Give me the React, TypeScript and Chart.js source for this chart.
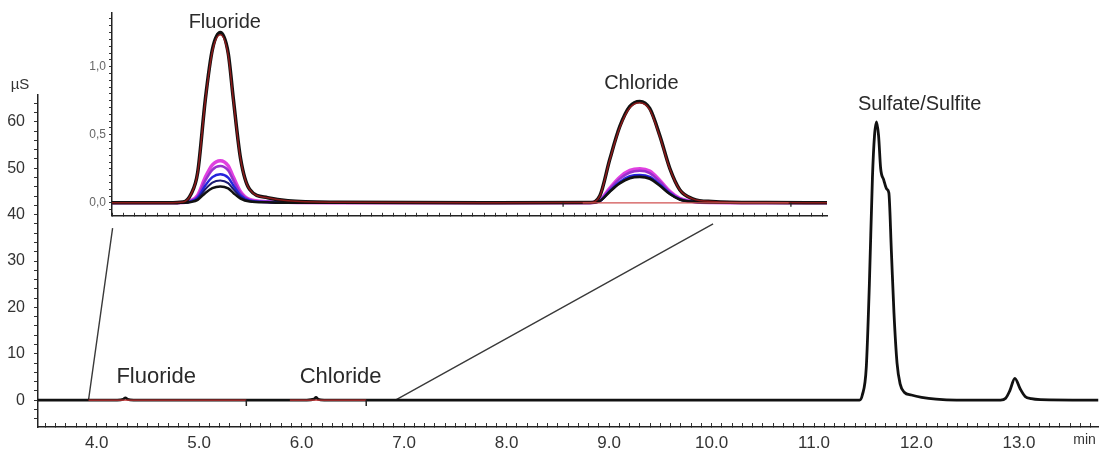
import React, { useEffect, useRef } from "react";
import { Chart, registerables } from "chart.js";

Chart.register(...registerables);

// ---------------- DATA ----------------
// Main chromatogram (time in min, conductivity in µS)
const mainTimes = [
  3.427, 3.92, 4.2, 4.26, 4.28, 4.3, 4.36, 5.46, 6.05, 6.12, 6.14, 6.16, 6.22, 7.0, 11.0,
  11.444, 11.47, 11.51, 11.54, 11.57, 11.59, 11.61, 11.63, 11.65, 11.68, 11.71, 11.73,
  11.755, 11.78, 11.81, 11.84, 11.88, 11.95, 12.05, 12.19, 12.39, 12.82, 12.87, 12.91,
  12.96, 13.01, 13.06, 13.12, 13.21, 13.776,
];
const mainSignal = [
  0, 0, 0, 0.2, 0.5, 0.2, 0, 0, 0, 0.2, 0.6, 0.2, 0, 0, 0,
  0, 1, 7.1, 25, 48, 57, 60, 57, 50, 47.5, 45.5, 44.7,
  32, 18.8, 8, 3.5, 1.7, 1.1, 0.6, 0.2, 0, 0, 0.4, 2,
  4.7, 2.5, 0.8, 0.3, 0.1, 0,
];
// integration baselines (red) and their end marks
const integrationStart = [3.92, 5.885];
const integrationEnd = [5.46, 6.63];
const integrationMarks = [5.46, 6.63];
// zoom connector lines (from main trace to inset)
const connectorFromX = [3.92, 6.915];
const connectorFromY = [0, 0];
const connectorToX = [4.155, 10.015];
const connectorToY = [37.1, 38.0];

// Peak labels
const mainLabelText = ["Fluoride", "Chloride", "Sulfate/Sulfite"];
const mainLabelX = [4.58, 6.38, 12.03];
const mainLabelY = [4.98, 4.98, 63.8];

// Tick labels
const mainXLabels = ["4.0", "5.0", "6.0", "7.0", "8.0", "9.0", "10.0", "11.0", "12.0", "13.0"];
const mainYLabels = ["0", "10", "20", "30", "40", "50", "60"];
const insetYLabels = ["0,0", "0,5", "1,0"];

// Inset (zoomed) traces
const insetTimes = [
  3.8, 4.05, 4.116, 4.15, 4.18, 4.214, 4.245, 4.28, 4.315, 4.338, 4.37, 4.41, 4.49, 4.58, 4.8,
  5.5,
  5.919, 5.963, 6.007, 6.051, 6.096, 6.14, 6.184, 6.229, 6.273, 6.317, 6.375, 6.46, 6.7, 6.97,
];
const traceBlackHigh = [
  0, 0, 0.006, 0.063, 0.225, 0.763, 1.125, 1.25, 1.1, 0.763, 0.325, 0.1, 0.038, 0.015, 0.004,
  0,
  0.002, 0.052, 0.32, 0.559, 0.708, 0.745, 0.693, 0.492, 0.253, 0.097, 0.03, 0.01, 0.002, 0,
];
const traceDarkRed = [
  0, 0, 0.006, 0.062, 0.222, 0.753, 1.112, 1.235, 1.087, 0.753, 0.321, 0.099, 0.037, 0.015, 0.004,
  0,
  0.002, 0.051, 0.316, 0.551, 0.698, 0.735, 0.684, 0.485, 0.25, 0.096, 0.029, 0.01, 0.002, 0,
];
const traceMagenta = [
  0, 0, 0.002, 0.016, 0.056, 0.189, 0.279, 0.31, 0.273, 0.189, 0.081, 0.025, 0.009, 0.004, 0.001,
  0,
  0.001, 0.018, 0.108, 0.188, 0.238, 0.25, 0.233, 0.165, 0.085, 0.033, 0.01, 0.003, 0.001, 0,
];
const traceViolet = [
  0, 0, 0.001, 0.014, 0.049, 0.165, 0.243, 0.27, 0.238, 0.165, 0.07, 0.022, 0.008, 0.003, 0.001,
  0,
  0.001, 0.016, 0.101, 0.176, 0.223, 0.235, 0.219, 0.155, 0.08, 0.031, 0.009, 0.003, 0.001, 0,
];
const traceBlue = [
  0, 0, 0.001, 0.011, 0.038, 0.128, 0.189, 0.21, 0.185, 0.128, 0.055, 0.017, 0.006, 0.003, 0.001,
  0,
  0.001, 0.014, 0.088, 0.154, 0.195, 0.205, 0.191, 0.135, 0.07, 0.027, 0.008, 0.003, 0.001, 0,
];
const traceNavy = [
  0, 0, 0.001, 0.008, 0.03, 0.101, 0.149, 0.165, 0.145, 0.101, 0.043, 0.013, 0.005, 0.002, 0,
  0,
  0.001, 0.014, 0.084, 0.146, 0.185, 0.195, 0.181, 0.129, 0.066, 0.025, 0.008, 0.003, 0.001, 0,
];
const traceBlackLow = [
  0, 0, 0.001, 0.006, 0.022, 0.073, 0.108, 0.12, 0.106, 0.073, 0.031, 0.01, 0.004, 0.001, 0,
  0,
  0.001, 0.013, 0.082, 0.143, 0.181, 0.19, 0.177, 0.125, 0.065, 0.025, 0.008, 0.002, 0.001, 0,
];
const insetIntegrationStart = [5.887];
const insetIntegrationEnd = [6.8];
const insetMarks = [5.8, 6.81];
const insetLabelText = ["Fluoride", "Chloride"];
const insetLabelX = [4.3, 6.147];
const insetLabelY = [1.325, 0.88];

// ---------------- STYLE ----------------
const FONT = "Arial, 'Liberation Sans', Helvetica, sans-serif";
const TEXT = "#2a2a2a";
const mainLabelFontSizes = [22, 22, 20];
const insetLabelFontSizes = [20, 20];

const pts = (xs: number[], ys: number[]) => xs.map((x, i) => ({ x, y: ys[i] }));

const segments = (starts: number[], ends: number[], y: number) => {
  const out: any[] = [];
  starts.forEach((s, i) => {
    if (i > 0) out.push({ x: (ends[i - 1] + s) / 2, y: null });
    out.push({ x: s, y }, { x: ends[i], y });
  });
  return out;
};

const parseLabel = (l: string) => Number(l.replace(",", "."));
const labelFor = (labels: string[], v: number) => {
  const hit = labels.find((l) => Math.abs(parseLabel(l) - v) < 1e-6);
  return hit === undefined ? "" : hit;
};

const rangeTicks = (from: number, to: number, div: number) => {
  const t: { value: number }[] = [];
  for (let k = from; k <= to; k++) t.push({ value: k / div });
  return t;
};

const textPlugin = (texts: string[], xs: number[], ys: number[], sizes: number[], extra?: (c: any) => void) => ({
  id: "peakTexts",
  afterDraw(chart: any) {
    const ctx = chart.ctx;
    const sx = chart.scales.x;
    const sy = chart.scales.y;
    ctx.save();
    ctx.fillStyle = TEXT;
    ctx.textAlign = "center";
    ctx.textBaseline = "middle";
    texts.forEach((t, i) => {
      ctx.font = `${sizes[i]}px ${FONT}`;
      ctx.fillText(t, sx.getPixelForValue(xs[i]), sy.getPixelForValue(ys[i]));
    });
    if (extra) extra(chart);
    ctx.restore();
  },
});

export default function App() {
  const mainRef = useRef<HTMLCanvasElement>(null);
  const insetRef = useRef<HTMLCanvasElement>(null);

  useEffect(() => {
    if (!mainRef.current || !insetRef.current) return;

    const mainChart = new Chart(mainRef.current, {
      type: "line",
      data: {
        datasets: [
          {
            label: "marks",
            data: integrationMarks.map((x) => ({ x, y: 0 })),
            showLine: false,
            pointStyle: "dash",
            rotation: 90,
            pointRadius: 6,
            pointBorderColor: "#222",
            pointBorderWidth: 1.5,
            order: 0,
          },
          {
            label: "integration",
            data: segments(integrationStart, integrationEnd, 0),
            borderColor: "#c83434",
            borderWidth: 1.4,
            pointRadius: 0,
            spanGaps: false,
            order: 1,
          },
          {
            label: "signal",
            data: pts(mainTimes, mainSignal),
            borderColor: "#111",
            borderWidth: 2.8,
            pointRadius: 0,
            cubicInterpolationMode: "monotone",
            order: 2,
          },
          {
            label: "connectors",
            data: [
              { x: connectorFromX[0], y: connectorFromY[0] },
              { x: connectorToX[0], y: connectorToY[0] },
              { x: (connectorToX[0] + connectorFromX[1]) / 2, y: null },
              { x: connectorFromX[1], y: connectorFromY[1] },
              { x: connectorToX[1], y: connectorToY[1] },
            ],
            borderColor: "#3a3a3a",
            borderWidth: 1.4,
            pointRadius: 0,
            spanGaps: false,
            tension: 0,
            order: 3,
          },
        ],
      } as any,
      options: {
        responsive: false,
        animation: false,
        events: [],
        layout: { padding: { top: 95, right: 3, left: 0, bottom: 0 } },
        plugins: { legend: { display: false }, tooltip: { enabled: false } },
        scales: {
          x: {
            type: "linear",
            min: 3.427,
            max: 13.776,
            afterBuildTicks: (s: any) => {
              s.ticks = rangeTicks(35, 137, 10);
            },
            afterFit: (s: any) => {
              s.height = 23;
            },
            grid: { drawOnChartArea: false, tickLength: -4, tickColor: "#333", tickWidth: 1 },
            border: { color: "#222", width: 1.5 },
            ticks: {
              autoSkip: false,
              maxRotation: 0,
              minRotation: 0,
              padding: 10,
              color: "#333",
              font: { family: FONT, size: 17 },
              callback: (v: any) => labelFor(mainXLabels, Number(v)),
            },
          },
          y: {
            type: "linear",
            min: -5.8,
            max: 65.8,
            afterBuildTicks: (s: any) => {
              s.ticks = rangeTicks(-2, 32, 0.5);
            },
            afterFit: (s: any) => {
              s.width = 38;
            },
            grid: { drawOnChartArea: false, tickLength: 4, tickColor: "#333", tickWidth: 1 },
            border: { color: "#222", width: 1.5 },
            ticks: {
              autoSkip: false,
              padding: 9,
              color: "#333",
              font: { family: FONT, size: 16 },
              callback: (v: any) => labelFor(mainYLabels, Number(v)),
            },
          },
        },
      } as any,
      plugins: [
        textPlugin(mainLabelText, mainLabelX, mainLabelY, mainLabelFontSizes, (chart: any) => {
          const ctx = chart.ctx;
          ctx.fillStyle = "#333";
          ctx.font = `15px ${FONT}`;
          ctx.textAlign = "center";
          ctx.fillText("µS", chart.chartArea.left - 18, chart.chartArea.top - 10);
          ctx.font = `14px ${FONT}`;
          ctx.fillText("min", chart.chartArea.right - 14, chart.scales.x.top + 13);
        }),
      ],
    });

    const traces = [
      { label: "trace 1", data: traceDarkRed, color: "#8b1a1a", width: 1.5 },
      { label: "trace 2", data: traceBlackHigh, color: "#111", width: 3.5 },
      { label: "trace 3", data: traceBlackLow, color: "#111", width: 2.5 },
      { label: "trace 4", data: traceNavy, color: "#1a1a70", width: 2 },
      { label: "trace 5", data: traceBlue, color: "#2424dc", width: 2.5 },
      { label: "trace 6", data: traceViolet, color: "#9932cc", width: 2.5 },
      { label: "trace 7", data: traceMagenta, color: "#e040e0", width: 3.5 },
    ];

    const insetChart = new Chart(insetRef.current, {
      type: "line",
      data: {
        datasets: [
          {
            label: "marks",
            data: insetMarks.map((x) => ({ x, y: 0 })),
            showLine: false,
            pointStyle: "dash",
            rotation: 90,
            pointRadius: 4,
            pointBorderColor: "#222",
            pointBorderWidth: 1.3,
            order: 0,
          },
          {
            label: "integration",
            data: segments(insetIntegrationStart, insetIntegrationEnd, 0),
            borderColor: "#d05050",
            borderWidth: 1.2,
            pointRadius: 0,
            order: 1,
          },
          ...traces.map((t, i) => ({
            label: t.label,
            data: pts(insetTimes, t.data),
            borderColor: t.color,
            borderWidth: t.width,
            pointRadius: 0,
            cubicInterpolationMode: "monotone",
            order: 2 + i,
          })),
        ],
      } as any,
      options: {
        responsive: false,
        animation: false,
        events: [],
        layout: { padding: { top: 13, right: 13, left: 0, bottom: 0 } },
        plugins: { legend: { display: false }, tooltip: { enabled: false } },
        scales: {
          x: {
            type: "linear",
            min: 3.8,
            max: 6.97,
            afterBuildTicks: (s: any) => {
              s.ticks = rangeTicks(76, 139, 20);
            },
            afterFit: (s: any) => {
              s.height = 9;
            },
            grid: { drawOnChartArea: false, tickLength: -3, tickColor: "#333", tickWidth: 1 },
            border: { color: "#222", width: 1.5 },
            ticks: { autoSkip: false, maxRotation: 0, display: true, callback: () => "" },
          },
          y: {
            type: "linear",
            min: -0.095,
            max: 1.394,
            afterBuildTicks: (s: any) => {
              s.ticks = rangeTicks(-1, 27, 20);
            },
            afterFit: (s: any) => {
              s.width = 42;
            },
            grid: { drawOnChartArea: false, tickLength: 3, tickColor: "#333", tickWidth: 1 },
            border: { color: "#222", width: 1.5 },
            ticks: {
              autoSkip: false,
              padding: 3,
              color: "#666",
              font: { family: FONT, size: 12 },
              callback: (v: any) => labelFor(insetYLabels, Number(v)),
            },
          },
        },
      } as any,
      plugins: [textPlugin(insetLabelText, insetLabelX, insetLabelY, insetLabelFontSizes)],
    });

    return () => {
      mainChart.destroy();
      insetChart.destroy();
    };
  }, []);

  return (
    <div style={{ position: "absolute", left: 0, top: 0, width: 1106, height: 450, background: "#fff" }}>
      <canvas
        ref={mainRef}
        width={1106}
        height={450}
        style={{ position: "absolute", left: 0, top: 0, width: 1106, height: 450, display: "block" }}
      />
      <canvas
        ref={insetRef}
        width={770}
        height={226}
        style={{ position: "absolute", left: 70, top: 0, width: 770, height: 226, display: "block" }}
      />
    </div>
  );
}
